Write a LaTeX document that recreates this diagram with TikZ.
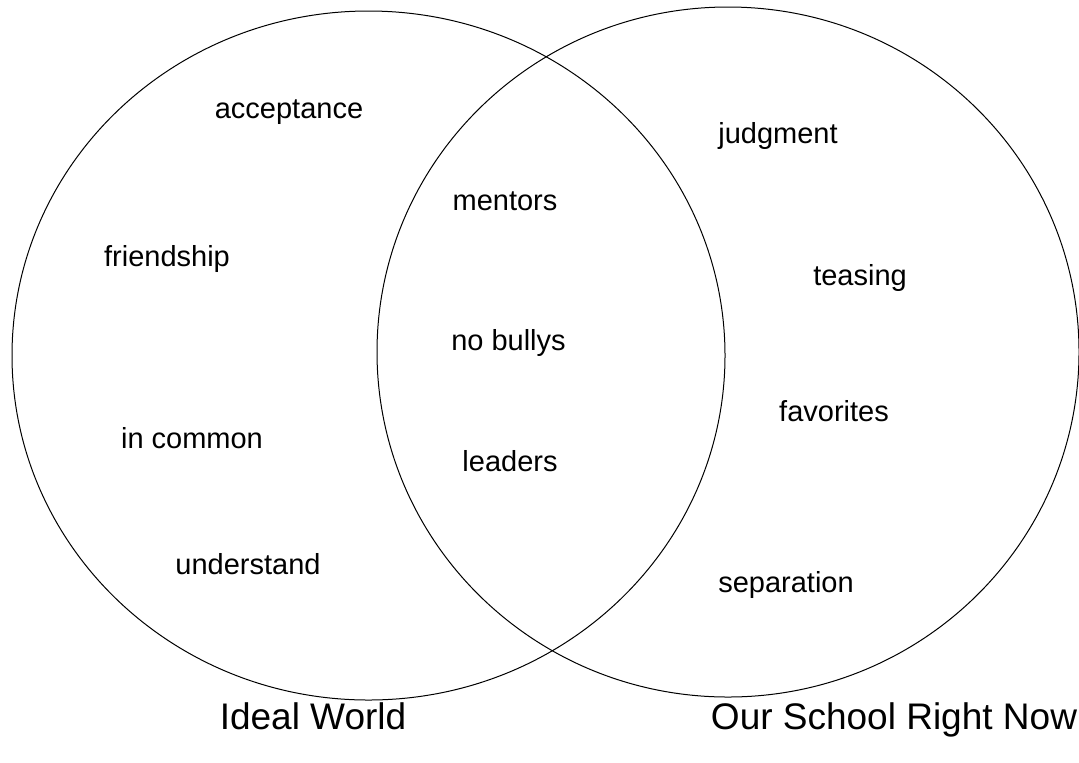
\documentclass[tikz,border=0pt]{standalone}
\usepackage{fontspec}
\setmainfont{Liberation Sans}
\usepackage{tikz}

\begin{document}
\begin{tikzpicture}[x=0.5pt, y=-0.5pt, every node/.style={font=\fontsize{14.5}{16}\selectfont, anchor=base, inner sep=0pt}]
    \useasboundingbox (0,0) rectangle (1079,762);

    % The two sets
    \draw[line width=0.5pt] (368.5,355.5) ellipse [x radius=356.5, y radius=344.5];
    \draw[line width=0.5pt] (728,352) ellipse [x radius=351, y radius=345];

    % Left only - ideal world
    \node (acceptance) at (289,118) {acceptance};
    \node (friendship) at (167,266) {friendship};
    \node (incommon) at (192,448) {in common};
    \node (understand) at (248,574) {understand};

    % Overlap
    \node (mentors) at (505,210) {mentors};
    \node (nobullys) at (508.5,350) {no bullys};
    \node (leaders) at (510,471) {leaders};

    % Right only - our school
    \node (judgment) at (778,143) {judgment};
    \node (teasing) at (860,285) {teasing};
    \node (favorites) at (834,421) {favorites};
    \node (separation) at (786,592) {separation};

    % Set labels
    \node[font=\fontsize{18.5}{20}\selectfont] (ideal) at (313,729) {Ideal World};
    \node[font=\fontsize{18.5}{20}\selectfont] (school) at (894,729) {Our School Right Now};
\end{tikzpicture}
\end{document}
